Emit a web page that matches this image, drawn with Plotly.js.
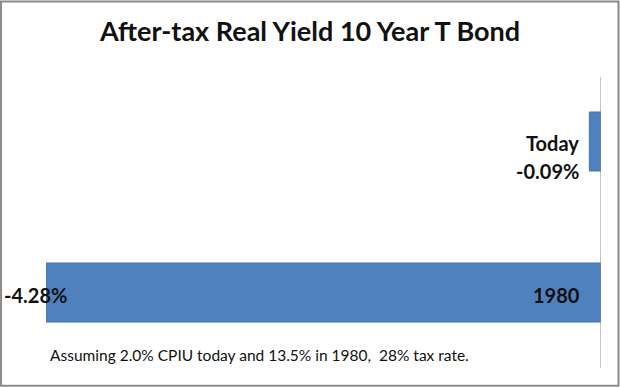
<!DOCTYPE html>
<html>
<head>
<meta charset="utf-8">
<script src="https://cdn.plot.ly/plotly-3.0.1.min.js"></script>
<style>
  html, body { margin: 0; padding: 0; background: #ffffff; }
  #chart { width: 620px; height: 387px; }
</style>
</head>
<body>
<div id="chart"></div>
<script>
// ---- data ----
const categories = ['1980', 'Today'];
const yields = [-4.28, -0.09];
const valueLabels = ['-4.28%', '-0.09%'];
const chartTitle = 'After-tax Real Yield 10 Year T Bond';
const footnote = 'Assuming 2.0% CPIU today and 13.5% in 1980,  28% tax rate.';

const FONT = 'Lato, "Liberation Sans", Arial, sans-serif';
const barColor = '#4F81BD';

const trace = {
  type: 'bar',
  orientation: 'h',
  y: categories,
  x: yields,
  marker: { color: barColor, line: { color: '#4677b0', width: 1 } },
  hoverinfo: 'none'
};

const minVal = Math.min.apply(null, yields);

const annotations = [
  { x: yields[1], y: 1, xref: 'x', yref: 'y', text: '<b>' + categories[1] + '</b>',
    showarrow: false, xanchor: 'right', yanchor: 'middle', xshift: -8, yshift: -1,
    font: { family: FONT, size: 20, color: '#111' } },
  { x: yields[1], y: 1, xref: 'x', yref: 'y', text: '<b>' + valueLabels[1] + '</b>',
    showarrow: false, xanchor: 'right', yanchor: 'middle', xshift: -8, yshift: -29,
    font: { family: FONT, size: 20, color: '#111' } },
  { x: yields[0], y: 0, xref: 'x', yref: 'y', text: '<b>' + valueLabels[0] + '</b>',
    showarrow: false, xanchor: 'right', yanchor: 'middle', xshift: 23, yshift: -2,
    font: { family: FONT, size: 20, color: '#111' } },
  { x: 0, y: 0, xref: 'x', yref: 'y', text: '<b>' + categories[0] + '</b>',
    showarrow: false, xanchor: 'right', yanchor: 'middle', xshift: -19, yshift: -2,
    font: { family: FONT, size: 20, color: '#111' } },
  { x: 0.003, y: 0.094, xref: 'paper', yref: 'paper', text: footnote,
    showarrow: false, xanchor: 'left', yanchor: 'middle',
    font: { family: FONT, size: 15.5, color: '#111' } }
];

const shapes = [
  { type: 'line', xref: 'x', yref: 'paper', x0: 0, x1: 0, y0: 0.053, y1: 0.966,
    line: { color: '#888888', width: 1 } },
  { type: 'rect', xref: 'paper', yref: 'paper', x0: -0.081, x1: 1.0315, y0: -0.002, y1: 1.202,
    line: { color: '#8a8a8a', width: 2 }, fillcolor: 'rgba(0,0,0,0)' }
];

const layout = {
  width: 620,
  height: 387,
  margin: { l: 46, r: 19, t: 66, b: 2 },
  paper_bgcolor: '#ffffff',
  plot_bgcolor: '#ffffff',
  showlegend: false,
  bargap: 0.609,
  title: {
    text: '<b>' + chartTitle + '</b>',
    x: 0.5, xref: 'container', xanchor: 'center',
    y: 1 - 32 / 387, yref: 'container', yanchor: 'middle',
    font: { family: FONT, size: 27, color: '#111' }
  },
  xaxis: {
    range: [minVal, 0], fixedrange: true,
    showgrid: false, zeroline: false, showline: false, showticklabels: false, ticks: ''
  },
  yaxis: {
    type: 'category',
    categoryorder: 'array', categoryarray: categories,
    range: [-0.6126, 1.5], autorange: false, fixedrange: true,
    showgrid: false, zeroline: false, showline: false, showticklabels: false, ticks: ''
  },
  annotations: annotations,
  shapes: shapes
};

Plotly.newPlot('chart', [trace], layout, { displayModeBar: false, staticPlot: true });
</script>
</body>
</html>
